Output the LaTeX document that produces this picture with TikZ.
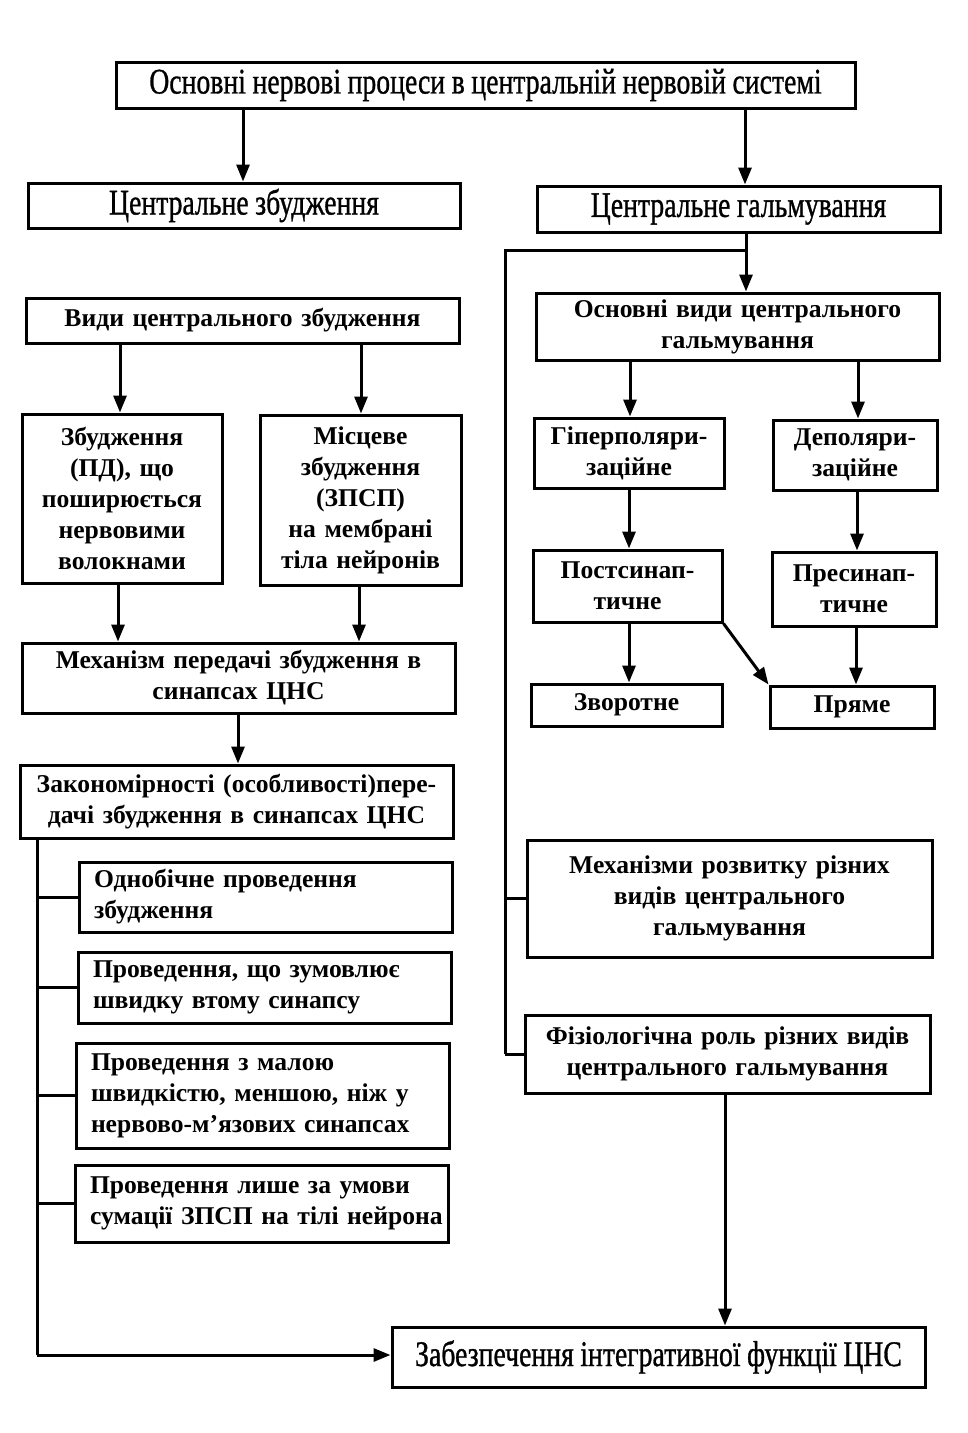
\documentclass[tikz,border=0pt]{standalone}
\usepackage{fontspec}
\usepackage{graphicx}
\setmainfont{Liberation Serif}
\newfontfamily\condf{Liberation Serif}[FakeBold=1]
\usetikzlibrary{arrows.meta}
\newcommand\bx[7]{\node[box,#6,minimum width={#4-#2}, minimum height={#5-#3}, text width={#4-#2-10}] (#1) at ({(#2+#4)/2},{(#3+#5)/2}) {#7};}
\newcommand\cnd[1]{\scalebox{0.77}[1]{\fontsize{36}{40}\selectfont\condf\mdseries #1}}
\newcommand\lnx[1]{\hspace*{10pt}\mbox{#1}}
\begin{document}
\begin{tikzpicture}[x=1pt,y=-1pt,
  box/.style={draw, line width=3pt, inner xsep=5pt, inner ysep=0pt, align=center,
    font=\fontsize{25.6}{31}\selectfont\bfseries},
  lbox/.style={align=left},
  conn/.style={line width=3pt},
  arr/.style={conn, -{Triangle[length=17pt,width=13pt]}}]
\useasboundingbox (0,0) rectangle (967,1433);
\bx{top}{116}{62}{855}{108}{}{\cnd{Основні нервові процеси в центральній нервовій системі}}
\bx{cz}{28}{183}{460}{228}{}{\cnd{Центральне збудження}}
\bx{cg}{537}{186}{940}{232}{}{\cnd{Центральне гальмування}}
\bx{vz}{26}{298}{459}{343}{}{Види центрального збудження}
\bx{zb}{22}{414}{222}{583}{}{Збудження\\(ПД), що\\поширюється\\нервовими\\волокнами}
\bx{mz}{260}{415}{461}{585}{}{Місцеве\\збудження\\(ЗПСП)\\на мембрані\\тіла нейронів}
\bx{mp}{22}{643}{455}{713}{}{Механізм передачі збудження в\\синапсах ЦНС}
\bx{zk}{20}{765}{453}{838}{}{Закономірності (особливості)пере-\\дачі збудження в синапсах ЦНС}
\bx{p1}{79}{862}{452}{932}{lbox}{\lnx{Однобічне проведення}\\\lnx{збудження}}
\bx{p2}{78}{952}{451}{1023}{lbox}{\lnx{Проведення, що зумовлює}\\\lnx{швидку втому синапсу}}
\bx{p3}{76}{1043}{449}{1148}{lbox}{\lnx{Проведення з малою}\\\lnx{швидкістю, меншою, ніж у}\\\lnx{нервово-м’язових синапсах}}
\bx{p4}{75}{1165}{448}{1242}{lbox}{\lnx{Проведення лише за умови}\\\lnx{сумації ЗПСП на тілі нейрона}}
\bx{ov}{536}{293}{939}{360}{}{Основні види центрального\\гальмування}
\bx{gp}{534}{418}{724}{488}{}{Гіперполяри-\\заційне}
\bx{dp}{773}{420}{937}{490}{}{Деполяри-\\заційне}
\bx{ps}{533}{550}{722}{622}{}{Постсинап-\\тичне}
\bx{pr}{772}{552}{936}{626}{}{Пресинап-\\тичне}
\bx{zv}{531}{684}{722}{726}{}{Зворотне}
\bx{pm}{770}{686}{934}{728}{}{Пряме}
\bx{mr}{527}{840}{932}{957}{}{Механізми розвитку різних\\видів центрального\\гальмування}
\bx{fr}{525}{1015}{930}{1093}{}{Фізіологічна роль різних видів\\центрального гальмування}
\bx{zf}{392}{1327}{925}{1387}{}{\cnd{Забезпечення інтегративної функції ЦНС}}
% connectors
\draw[arr] (top.south -| 243,0) -- (cz.north -| 243,0);
\draw[arr] (top.south -| 745,0) -- (cg.north -| 745,0);
\coordinate (br) at (746,250);
\draw[arr] (cg.south -| br) -- (ov.north -| br);
\coordinate (rl) at (505,250);
\draw[conn] (br) -- (rl) -- (rl |- fr.west);
\draw[conn] (rl |- mr.west) -- (mr.west);
\draw[conn] (rl |- fr.west) -- (fr.west);
\draw[arr] (vz.south -| 120,0) -- (zb.north -| 120,0);
\draw[arr] (vz.south -| 361,0) -- (mz.north -| 361,0);
\draw[arr] (zb.south -| 118,0) -- (mp.north -| 118,0);
\draw[arr] (mz.south -| 359,0) -- (mp.north -| 359,0);
\draw[arr] (mp.south -| 238,0) -- (zk.north -| 238,0);
\coordinate (ll) at (37,1355);
\draw[conn] (zk.south -| ll) -- (ll);
\draw[arr] (ll) -- (zf.west |- ll);
\draw[conn] (ll |- p1.west) -- (p1.west);
\draw[conn] (ll |- p2.west) -- (p2.west);
\draw[conn] (ll |- p3.west) -- (p3.west);
\draw[conn] (ll |- p4.west) -- (p4.west);
\draw[arr] (ov.south -| 630,0) -- (gp.north -| 630,0);
\draw[arr] (ov.south -| 858,0) -- (dp.north -| 858,0);
\draw[arr] (gp.south -| 629,0) -- (ps.north -| 629,0);
\draw[arr] (dp.south -| 857,0) -- (pr.north -| 857,0);
\draw[arr] (ps.south -| 629,0) -- (zv.north -| 629,0);
\draw[arr] (ps.south east) -- (pm.north west);
\draw[arr] (pr.south -| 856,0) -- (pm.north -| 856,0);
\draw[arr] (fr.south -| 725,0) -- (zf.north -| 725,0);
\end{tikzpicture}
\end{document}
